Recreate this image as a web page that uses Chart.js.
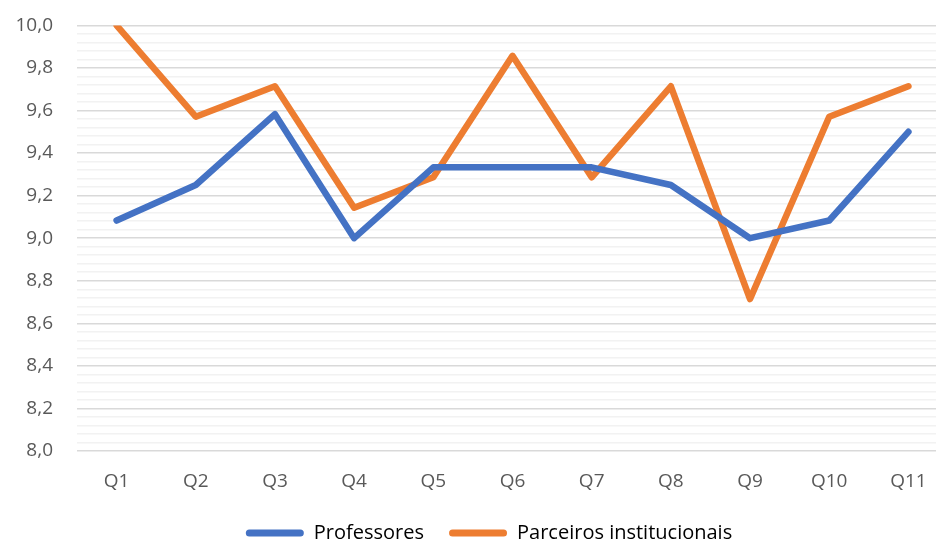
<!DOCTYPE html>
<html>
<head>
<meta charset="utf-8">
<script src="https://cdn.jsdelivr.net/npm/chart.js@4.4.0/dist/chart.umd.min.js"></script>
<style>
  html, body { margin: 0; padding: 0; background: #fff; overflow: hidden; }
  #wrap { width: 948px; height: 552px; margin-top: -10px; position: relative; }
</style>
</head>
<body>
<div id="wrap"><canvas id="chart"></canvas></div>
<script>
// ── Data ──────────────────────────────────────────────────────────────
const labels = ['Q1', 'Q2', 'Q3', 'Q4', 'Q5', 'Q6', 'Q7', 'Q8', 'Q9', 'Q10', 'Q11'];
const professores = [9.083, 9.25, 9.583, 9.0, 9.333, 9.333, 9.333, 9.25, 9.0, 9.083, 9.5];
const parceiros   = [10.0, 9.571, 9.714, 9.143, 9.286, 9.857, 9.286, 9.714, 8.714, 9.571, 9.714];
const seriesNames = ['Professores', 'Parceiros institucionais'];
const seriesColors = ['#4472C4', '#ED7D31'];

Chart.defaults.font.family = '"Open Sans", sans-serif';
Chart.defaults.font.size = 19;
Chart.defaults.color = '#595959';

// nudge the legend down/right a little, like the original,
// and give the x labels room so their descenders are not clipped
const legendShift = {
    id: 'legendShift',
    afterLayout(c) {
        c.legend.top += 11;
        c.legend.bottom += 11;
        c.legend.left += 15;
        c.legend.right += 15;
        c.scales.x.bottom += 20;
    }
};

const ctx = document.getElementById('chart').getContext('2d');
const chart = new Chart(ctx, {
    type: 'line',
    data: {
        labels: labels,
        datasets: [
            { label: seriesNames[0], data: professores, borderColor: seriesColors[0], backgroundColor: seriesColors[0],
              borderWidth: 6.5, pointRadius: 0, tension: 0, borderCapStyle: 'round', borderJoinStyle: 'round' },
            { label: seriesNames[1], data: parceiros, borderColor: seriesColors[1], backgroundColor: seriesColors[1],
              borderWidth: 6.5, pointRadius: 0, tension: 0, borderCapStyle: 'round', borderJoinStyle: 'round' }
        ]
    },
    plugins: [legendShift],
    options: {
        responsive: true,
        maintainAspectRatio: false,
        animation: false,
        layout: { padding: 0 },
        plugins: {
            tooltip: { enabled: false },
            legend: {
                position: 'bottom',
                labels: {
                    font: { size: 20 },
                    boxWidth: 58,
                    boxHeight: 7,
                    useBorderRadius: true,
                    borderRadius: 3.5,
                    padding: 25,
                    generateLabels: (c) => c.data.datasets.map((ds, i) => ({
                        text: ds.label, fillStyle: ds.borderColor, strokeStyle: ds.borderColor,
                        lineWidth: 0, datasetIndex: i, hidden: false, borderRadius: 3.5
                    }))
                }
            }
        },
        scales: {
            x: {
                offset: true,
                afterFit: (s) => { s.height = 36; },
                grid: { display: false, drawTicks: false },
                border: { display: false },
                ticks: { padding: 19 }
            },
            y: {
                min: 8,
                max: 10,
                afterFit: (s) => { s.width = 77; },
                border: { display: false },
                grid: {
                    drawTicks: false,
                    lineWidth: 1.5,
                    color: (c) => (Math.round(c.tick.value * 100) % 20 === 0 ? '#d9d9d9' : '#f2f2f2')
                },
                ticks: {
                    stepSize: 0.04,
                    padding: 24,
                    autoSkip: false,
                    callback: (v) => (Math.round(v * 100) % 20 === 0 ? v.toFixed(1).replace('.', ',') : '')
                }
            }
        }
    }
});
</script>
</body>
</html>
